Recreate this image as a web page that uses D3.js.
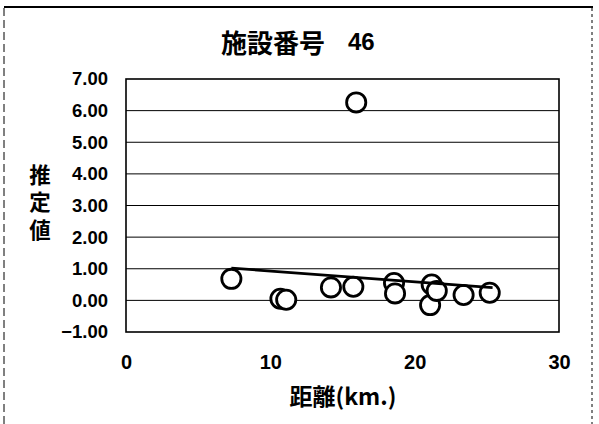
<!DOCTYPE html>
<html><head><meta charset="utf-8">
<script src="https://cdn.jsdelivr.net/npm/d3@7/dist/d3.min.js"></script>
<style>
html,body{margin:0;padding:0;background:#fff;}
svg{display:block;}
</style></head>
<body><svg id="c" width="599" height="424"></svg>
<script>
const titleMain = "施設番号";
const titleNum = "46";
const xTitle = "距離(km.)";
const yTitle = "推定値";
const xTicks = [0, 10, 20, 30];
const yTicks = [-1, 0, 1, 2, 3, 4, 5, 6, 7];
const distance = [7.3, 10.7, 11.1, 14.2, 15.75, 15.95, 18.57, 18.64, 21.07, 21.18, 21.53, 23.39, 25.2];
const estimate = [0.68, 0.05, 0.02, 0.41, 0.43, 6.26, 0.55, 0.22, -0.15, 0.50, 0.30, 0.17, 0.24];
const trendX = [7.3, 25.4];
const trendY = [1.02, 0.40];

const svg = d3.select("#c");
const W = 599, H = 424;
const L = 126, R = 559, T = 79, B = 332;
const x = d3.scaleLinear().domain([0, 30]).range([L, R]);
const y = d3.scaleLinear().domain([-1, 7]).range([B, T]);
const numFont = "'Liberation Sans', Arial, sans-serif";
const cjkFont = "'Noto Sans CJK JP', 'Noto Sans CJK SC', sans-serif";

svg.append("rect").attr("width", W).attr("height", H).attr("fill", "#fff");

// outer frame (scanned look)
svg.append("line").attr("x1", 4).attr("x2", 593).attr("y1", 7).attr("y2", 7)
  .attr("stroke", "#000").attr("stroke-width", 2);
svg.append("line").attr("x1", 4).attr("x2", 4).attr("y1", 8).attr("y2", H)
  .attr("stroke", "#000").attr("stroke-width", 1).attr("stroke-dasharray", "8,4");
svg.append("line").attr("x1", 592).attr("x2", 592).attr("y1", 8).attr("y2", H)
  .attr("stroke", "#000").attr("stroke-width", 1).attr("stroke-dasharray", "3,3");

// title
const tt = svg.append("text").attr("y", 41).attr("dominant-baseline", "central")
  .style("font-weight", "bold").attr("fill", "#000");
tt.append("tspan").attr("x", 221).style("font-family", cjkFont).style("font-size", "26px").text(titleMain);
tt.append("tspan").attr("x", 348).style("font-family", numFont).style("font-size", "24px").text(titleNum);

// gridlines
svg.append("g").selectAll("line").data(yTicks.filter(v => v > -1 && v < 7)).join("line")
  .attr("x1", L).attr("x2", R).attr("y1", d => y(d)).attr("y2", d => y(d))
  .attr("stroke", "#000").attr("stroke-width", 1);

// plot frame
svg.append("rect").attr("x", L).attr("y", T).attr("width", R - L).attr("height", B - T)
  .attr("fill", "none").attr("stroke", "#000").attr("stroke-width", 1.6);

// y axis
const ya = svg.append("g").attr("transform", `translate(${L},0)`)
  .call(d3.axisLeft(y).tickValues(yTicks).tickFormat(d3.format(".2f")).tickSize(0).tickPadding(18));
ya.select(".domain").remove();
ya.selectAll("text").style("font-family", numFont).style("font-size", "18.5px")
  .style("font-weight", "bold").attr("fill", "#000");

// x axis
const xa = svg.append("g").attr("transform", `translate(0,${B})`)
  .call(d3.axisBottom(x).tickValues(xTicks).tickFormat(d3.format("d")).tickSize(0).tickPadding(0));
xa.select(".domain").remove();
xa.selectAll("text").attr("y", 30).attr("dy", "0.35em")
  .style("font-family", numFont).style("font-size", "20px")
  .style("font-weight", "bold").attr("fill", "#000");

// axis titles
svg.append("text").attr("x", 343).attr("y", 395).attr("text-anchor", "middle")
  .attr("dominant-baseline", "central")
  .style("font-family", cjkFont).style("font-size", "23px").style("font-weight", "bold")
  .text(xTitle);
svg.append("text").attr("x", 40).attr("y", 205).attr("text-anchor", "middle")
  .style("writing-mode", "vertical-rl").style("letter-spacing", "6px")
  .style("font-family", cjkFont).style("font-size", "21.5px").style("font-weight", "bold")
  .text(yTitle);

// points
const pts = distance.map((d, i) => ({ x: d, y: estimate[i] }));
svg.append("g").selectAll("circle").data(pts).join("circle")
  .attr("cx", d => x(d.x)).attr("cy", d => y(d.y)).attr("r", 9.6)
  .attr("fill", "#fff").attr("stroke", "#000").attr("stroke-width", 2.8);

// trend line
svg.append("line")
  .attr("x1", x(trendX[0])).attr("y1", y(trendY[0]))
  .attr("x2", x(trendX[1])).attr("y2", y(trendY[1]))
  .attr("stroke", "#000").attr("stroke-width", 2.8);
</script></body></html>
